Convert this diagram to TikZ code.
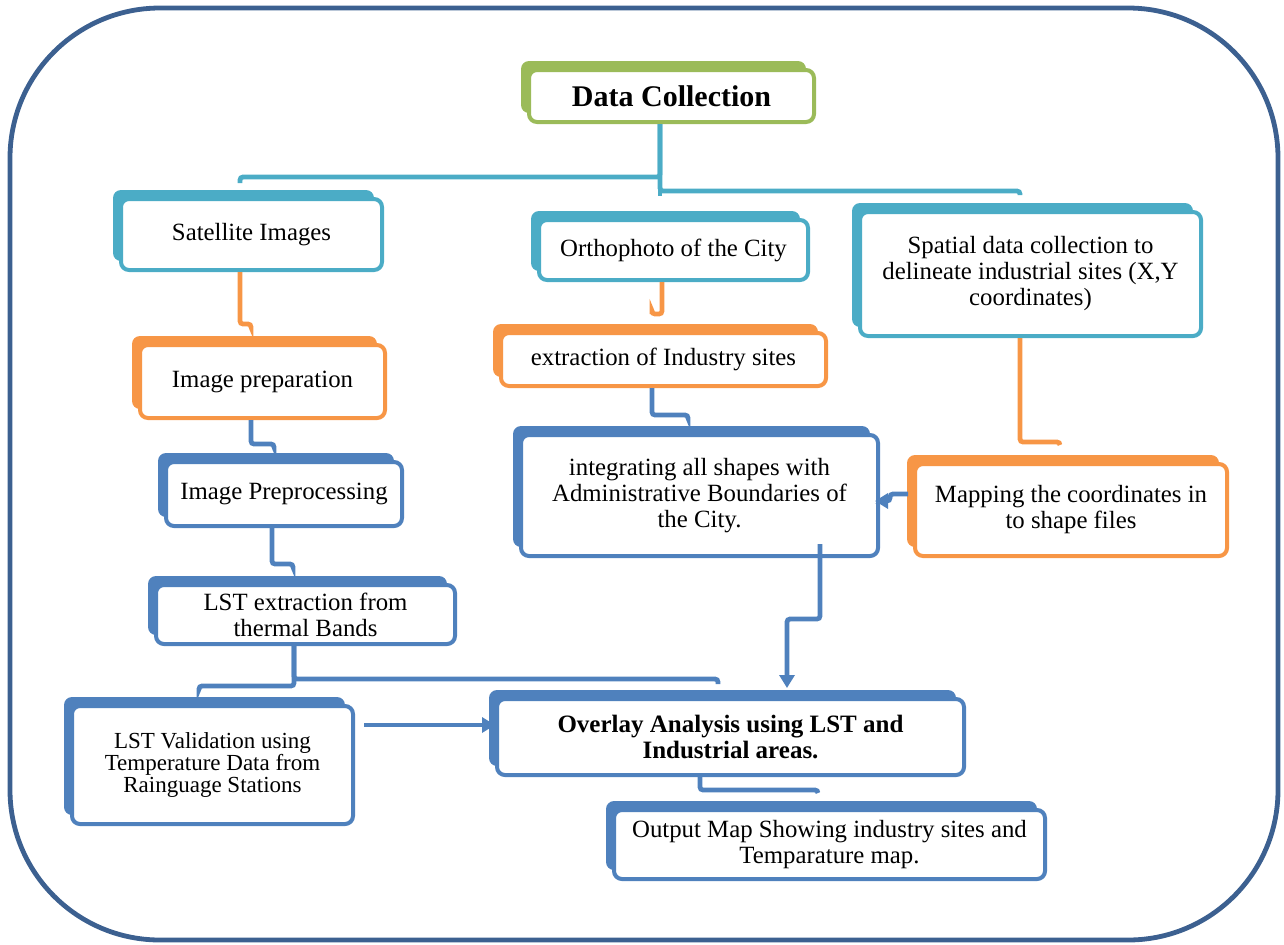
\documentclass[tikz,border=0pt]{standalone}
\usepackage{fontspec}
\setmainfont{Liberation Serif}
\usetikzlibrary{positioning,arrows.meta,shadows}
\definecolor{frameblue}{HTML}{3C6090}
\definecolor{collect}{HTML}{9BBB59}
\definecolor{source}{HTML}{4BACC6}
\definecolor{extract}{HTML}{F79646}
\definecolor{process}{HTML}{4F81BD}

\begin{document}
\begin{tikzpicture}[x=0.5pt,y=-0.5pt]
    \tikzset{
        stage/.style={draw=#1, fill=white, line width=2pt, rounded corners=4pt, align=center, inner sep=0pt,
            general shadow={fill=#1, shadow xshift=-4pt, shadow yshift=4.5pt},
            font=\fontsize{12.4}{13}\selectfont},
        link/.style={draw=#1, line width=2.4pt, rounded corners=1.5pt},
        arrow/.style={link=#1, -{Triangle[width=7.5pt,length=6.5pt]}}
    }
    \useasboundingbox (0,0) rectangle (1284,944);
    \draw[line width=2.4pt, draw=frameblue, rounded corners=75pt] (10,8) rectangle (1278,940);

    \node[stage=collect, minimum width=142.5pt, minimum height=26pt, font=\fontsize{15}{16}\selectfont\bfseries] (collection) at (671.5,96) {Data Collection};
    \node[stage=source, minimum width=130.5pt, minimum height=35.5pt] (satellite) at (251.5,234.5) {Satellite Images};
    \node[stage=source, minimum width=134.5pt, minimum height=30pt] (ortho) at (673.5,250) {Orthophoto of the City};
    \node[stage=source, minimum width=170.5pt, minimum height=62pt] (spatial) at (1030.5,274) {Spatial data collection to\\delineate industrial sites (X,Y\\coordinates)};
    \node[stage=extract, minimum width=122.5pt, minimum height=36.5pt] (preparation) at (262.5,381.5) {Image preparation};
    \node[stage=extract, minimum width=162.5pt, minimum height=26.5pt] (sites) at (663.5,359.5) {extraction of Industry sites};
    \node[stage=process, minimum width=118pt, minimum height=32pt] (preprocessing) at (284,494) {Image Preprocessing};
    \node[stage=process, minimum width=178.5pt, minimum height=60.5pt] (integrate) at (699.5,495.5) {integrating all shapes with\\Administrative Boundaries of\\the City.};
    \node[stage=extract, minimum width=156pt, minimum height=46pt] (mapping) at (1071,510) {Mapping the coordinates in\\to shape files};
    \node[stage=process, minimum width=149.5pt, minimum height=29.5pt] (lst) at (305.5,614.5) {LST extraction from\\thermal Bands};
    \node[stage=process, minimum width=140.5pt, minimum height=59pt, font=\fontsize{11.5}{11}\selectfont] (validation) at (212.5,765) {LST Validation using\\Temperature Data from\\Rainguage Stations};
    \node[stage=process, minimum width=233.5pt, minimum height=38pt, font=\fontsize{12.5}{13}\selectfont\bfseries] (overlay) at (730.5,737) {Overlay Analysis using LST and\\Industrial areas.};
    \node[stage=process, minimum width=215.5pt, minimum height=34.5pt] (output) at (829.5,844.5) {Output Map Showing industry sites and\\Temparature map.};

    % branches from data collection
    \draw[link=source] ([xshift=-5.75pt]collection.south) -- ++(0pt,-26.5pt) -| ([xshift=-5.75pt,yshift=7pt]satellite.north);
    \draw[link=source] ([xshift=-5.75pt]collection.south) -- ([xshift=-6.75pt,yshift=11pt]ortho.north);
    \draw[link=source] ([xshift=-5.75pt]collection.south) -- ++(0pt,-33.5pt) -| ([xshift=-5.25pt,yshift=7.5pt]spatial.north);

    \draw[link=extract] ([xshift=-5.75pt]satellite.south) -- ++(0pt,-26pt) -| ([xshift=-5.75pt,yshift=8.5pt]preparation.north);
    \draw[link=extract] ([xshift=-5.75pt]ortho.south) -- ++(0pt,-16pt) -| ([xshift=-5.75pt,yshift=8.5pt]sites.north);
    \draw[link=extract] ([xshift=-5.25pt]spatial.south) -- ++(0pt,-52pt) -| ([xshift=-5.5pt,yshift=8.5pt]mapping.north);
    \draw[link=process] ([xshift=-5.75pt]preparation.south) -- ++(0pt,-12pt) -| ([xshift=-5pt,yshift=7pt]preprocessing.north);
    \draw[link=process] ([xshift=-5.75pt]sites.south) -- ++(0pt,-13.5pt) -| ([xshift=-5.75pt,yshift=8pt]integrate.north);
    \draw[link=process] ([xshift=-6pt]preprocessing.south) -- ++(0pt,-18pt) -| ([xshift=-6.25pt,yshift=8.5pt]lst.north);
    \draw[link=process] ([xshift=-5.75pt]lst.south) -- ++(0pt,-20pt) -| ([xshift=-6.75pt,yshift=8pt]validation.north);
    \draw[link=process] ([xshift=-5.75pt]lst.south) -- ++(0pt,-16.5pt) -| ([xshift=-6.25pt,yshift=6.5pt]overlay.north);

    % arrows into the overlay
    \draw[arrow=process] ([xshift=60.25pt,yshift=7pt]integrate.south) -- ++(0pt,-37.5pt) -| ([xshift=28.25pt,yshift=4.5pt]overlay.north);
    \draw[arrow=process] ([xshift=-2.5pt,yshift=8pt]mapping.west) -- ++(-9pt,0pt) |- ([xshift=-2.5pt,yshift=-2.75pt]integrate.east);
    \draw[arrow=process] ([xshift=4.5pt,yshift=20pt]validation.east) -- ([yshift=6pt]overlay.west);
    \draw[link=process] ([xshift=-15.25pt]overlay.south) -- ++(0pt,-6.5pt) -| ([xshift=-5.75pt,yshift=7.5pt]output.north);
\end{tikzpicture}
\end{document}
